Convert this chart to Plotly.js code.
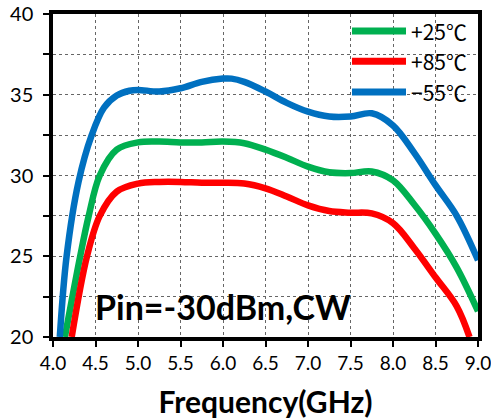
<!DOCTYPE html>
<html><head><meta charset="utf-8">
<script src="https://cdn.plot.ly/plotly-3.0.1.min.js"></script>
<style>html,body{margin:0;padding:0;background:#fff;}#chart{width:491px;height:419px;}</style>
</head><body><div id="chart"></div>
<script>
const freqBlue  = [4.08, 4.16, 4.3, 4.455, 4.6, 4.75, 4.9, 5.0, 5.25, 5.5, 5.75, 6.0, 6.1, 6.25, 6.5, 6.75, 7.0, 7.25, 7.5, 7.75, 8.0, 8.25, 8.5, 8.75, 9.0];
const gainBlue  = [20, 25, 29.6, 32.5, 34.2, 34.95, 35.25, 35.3, 35.2, 35.4, 35.8, 36.0, 36.0, 35.8, 35.2, 34.5, 33.95, 33.65, 33.65, 33.85, 33.1, 31.4, 29.4, 27.5, 24.75];
const freqGreen = [4.14, 4.32, 4.42, 4.55, 4.75, 5.0, 5.25, 5.5, 5.75, 6.0, 6.25, 6.5, 6.75, 7.0, 7.25, 7.5, 7.75, 8.0, 8.25, 8.5, 8.75, 9.0];
const gainGreen = [20, 25, 27.5, 30, 31.6, 32.05, 32.1, 32.05, 32.05, 32.1, 32.0, 31.6, 31.1, 30.55, 30.2, 30.15, 30.25, 29.7, 28.2, 26.4, 24.3, 21.6];
const freqRed   = [4.22, 4.40, 4.55, 4.75, 5.0, 5.25, 5.5, 5.75, 6.0, 6.25, 6.5, 6.75, 7.0, 7.25, 7.5, 7.75, 8.0, 8.25, 8.5, 8.75, 8.9];
const gainRed   = [20, 25, 27.5, 29.0, 29.5, 29.6, 29.6, 29.55, 29.55, 29.5, 29.2, 28.7, 28.15, 27.8, 27.7, 27.65, 27.05, 25.5, 23.7, 21.9, 20];
const seriesNames = ['+25℃', '+85℃', '−55℃'];
const seriesColors = ['#00B050', '#FF0000', '#0070C0'];
const xTicks = [4.0, 4.5, 5.0, 5.5, 6.0, 6.5, 7.0, 7.5, 8.0, 8.5, 9.0];
const xTickText = ['4.0','4.5','5.0','5.5','6.0','6.5','7.0','7.5','8.0','8.5','9.0'];

const xs = [freqGreen, freqRed, freqBlue];
const ys = [gainGreen, gainRed, gainBlue];
const traces = xs.map((x, i) => ({
  type: 'scatter', mode: 'lines', x: x, y: ys[i], name: seriesNames[i], showlegend: false,
  line: {color: seriesColors[i], width: 6.5, shape: 'spline', smoothing: 1}
}));

// legend drawn in paper space (top-right inside plot)
const legY = [0.947, 0.854, 0.7585];
const shapes = seriesNames.map((n, i) => ({
  type: 'line', xref: 'paper', yref: 'paper', x0: 0.7035, x1: 0.8306, y0: legY[i], y1: legY[i],
  line: {color: seriesColors[i], width: 7}
}));
const legendText = seriesNames.map((n, i) => ({
  xref: 'paper', yref: 'paper', x: 0.838, y: legY[i], xanchor: 'left', yanchor: 'middle', showarrow: false,
  text: n, font: {family: '"Noto Sans CJK JP", sans-serif', size: 21, color: '#000'}
}));

const layout = {
  width: 491, height: 419,
  margin: {l: 53, r: 13, t: 14, b: 82},
  paper_bgcolor: '#fff', plot_bgcolor: '#fff',
  showlegend: false,
  xaxis: {range: [4, 9], tickvals: xTicks, ticktext: xTickText, ticks: 'outside', ticklen: 6, tickwidth: 1.5, tickcolor: '#000',
          ticklabeloverflow: 'allow',
          showline: true, linewidth: 3.5, linecolor: '#000', mirror: true,
          showgrid: true, gridcolor: '#666', griddash: 'dot', gridwidth: 1, zeroline: false,
          tickfont: {family: 'Lato, sans-serif', size: 19, color: '#000'},
          title: {text: 'Frequency(GHz)', font: {family: 'Lato, sans-serif', size: 30, color: '#000', weight: 'bold'}, standoff: 20}},
  yaxis: {range: [20, 40], dtick: 5, ticks: 'outside', ticklen: 6, tickwidth: 1.5, tickcolor: '#000',
          ticklabelstandoff: 6,
          showline: true, linewidth: 3.5, linecolor: '#000', mirror: true,
          showgrid: true, gridcolor: '#666', griddash: 'dot', gridwidth: 1, zeroline: false,
          minor: {dtick: 2.5, ticks: 'outside', ticklen: 6, tickwidth: 1.5, tickcolor: '#000', showgrid: true, gridcolor: '#666', griddash: 'dot', gridwidth: 1},
          tickfont: {family: 'Lato, sans-serif', size: 20, color: '#000'}},
  shapes: shapes,
  annotations: [{xref: 'paper', yref: 'paper', x: 0.095, y: 0.025, xanchor: 'left', yanchor: 'bottom', showarrow: false,
                 text: 'Pin=-30dBm,CW', font: {family: 'Lato, sans-serif', size: 34, color: '#000', weight: 'bold'}}].concat(legendText)
};
Plotly.newPlot('chart', traces, layout, {displayModeBar: false});
</script></body></html>
